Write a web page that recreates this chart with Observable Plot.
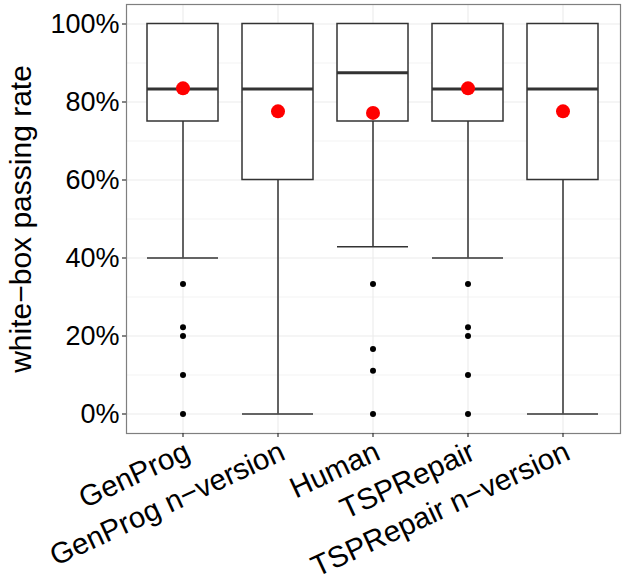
<!DOCTYPE html>
<html><head><meta charset="utf-8">
<script src="https://cdn.jsdelivr.net/npm/d3@7"></script>
<script src="https://cdn.jsdelivr.net/npm/@observablehq/plot@0.6"></script>
<style>
body{margin:0;background:#fff}
#chart svg{font-family:"Liberation Sans",Arial,Helvetica,sans-serif;background:#fff}
</style>
</head><body><div id="chart"></div>
<script>
const categories = ["GenProg", "GenProg n−version", "Human", "TSPRepair", "TSPRepair n−version"];
const lowerWhisker = [0.40, 0.00, 0.4286, 0.40, 0.00];
const q1Values = [0.75, 0.60, 0.75, 0.75, 0.60];
const medianValues = [0.8333, 0.8333, 0.875, 0.8333, 0.8333];
const q3Values = [1.00, 1.00, 1.00, 1.00, 1.00];
const upperWhisker = [1.00, 1.00, 1.00, 1.00, 1.00];
const meanValues = [0.835, 0.776, 0.772, 0.835, 0.776];
const outlierCategory = ["GenProg","GenProg","GenProg","GenProg","GenProg",
  "Human","Human","Human","Human",
  "TSPRepair","TSPRepair","TSPRepair","TSPRepair","TSPRepair"];
const outlierValues = [0.3333, 0.2222, 0.20, 0.10, 0.00,
  0.3333, 0.1667, 0.1111, 0.00,
  0.3333, 0.2222, 0.20, 0.10, 0.00];
const yTicks = [0, 0.2, 0.4, 0.6, 0.8, 1.0];
const yMinorTicks = [0.1, 0.3, 0.5, 0.7, 0.9];

const boxes = categories.map((c, i) => ({
  cat: c, lo: lowerWhisker[i], q1: q1Values[i], med: medianValues[i],
  q3: q3Values[i], hi: upperWhisker[i], mean: meanValues[i]
}));
const outliers = outlierValues.map((v, i) => ({cat: outlierCategory[i], v}));

const line = "#333";
const lw = 1.5;
const chart = Plot.plot({
  width: 624,
  height: 583,
  marginLeft: 126,
  marginRight: 4,
  marginTop: 4,
  marginBottom: 150,
  style: {background: "#fff", color: "#000"},
  x: {domain: categories, paddingInner: 0.25, paddingOuter: 0.225, label: null},
  y: {domain: [-0.05, 1.05], label: null},
  marks: [
    Plot.gridY(yMinorTicks, {stroke: "#ebebeb", strokeOpacity: 1, strokeWidth: 0.6}),
    Plot.gridY(yTicks, {stroke: "#ebebeb", strokeOpacity: 1, strokeWidth: 1.1}),
    Plot.gridX(categories, {stroke: "#ebebeb", strokeOpacity: 1, strokeWidth: 1.1}),
    Plot.ruleX(boxes, {x: "cat", y1: "lo", y2: "q1", stroke: line, strokeWidth: lw}),
    Plot.ruleX(boxes, {x: "cat", y1: "q3", y2: "hi", stroke: line, strokeWidth: lw}),
    Plot.tickY(boxes, {x: "cat", y: "lo", stroke: line, strokeWidth: lw}),
    Plot.tickY(boxes, {x: "cat", y: "hi", stroke: line, strokeWidth: lw}),
    Plot.barY(boxes, {x: "cat", y1: "q1", y2: "q3", fill: "#fff", stroke: line, strokeWidth: lw}),
    Plot.tickY(boxes, {x: "cat", y: "med", stroke: line, strokeWidth: 2.8}),
    Plot.dot(outliers, {x: "cat", y: "v", r: 3, fill: "#000", stroke: "none"}),
    Plot.dot(boxes, {x: "cat", y: "mean", r: 7, fill: "#ff0000", stroke: "none"}),
    Plot.frame({stroke: "#7f7f7f", strokeWidth: 1.2}),
    Plot.axisY(yTicks, {
      tickFormat: d => Math.round(d * 100) + "%",
      tickSize: 4, tickPadding: 3, stroke: "#333", strokeWidth: 1.2, fontSize: 27, fill: "#000",
      label: "white−box passing rate", labelAnchor: "center", labelArrow: "none",
      labelOffset: 117
    }),
    Plot.axisX(categories, {
      tickSize: 4, tickPadding: 2, stroke: "#333", strokeWidth: 1.2, fontSize: 29.5, fill: "#000",
      tickRotate: -25, textAnchor: "end", lineAnchor: "top", label: null
    })
  ]
});
chart.querySelectorAll("g[aria-label='y-axis label']").forEach(e => e.setAttribute("font-size", 30));
chart.querySelectorAll("g[aria-label='y-axis label'] text").forEach(e => e.setAttribute("font-size", 30));
document.getElementById("chart").appendChild(chart);
</script>
</body></html>
